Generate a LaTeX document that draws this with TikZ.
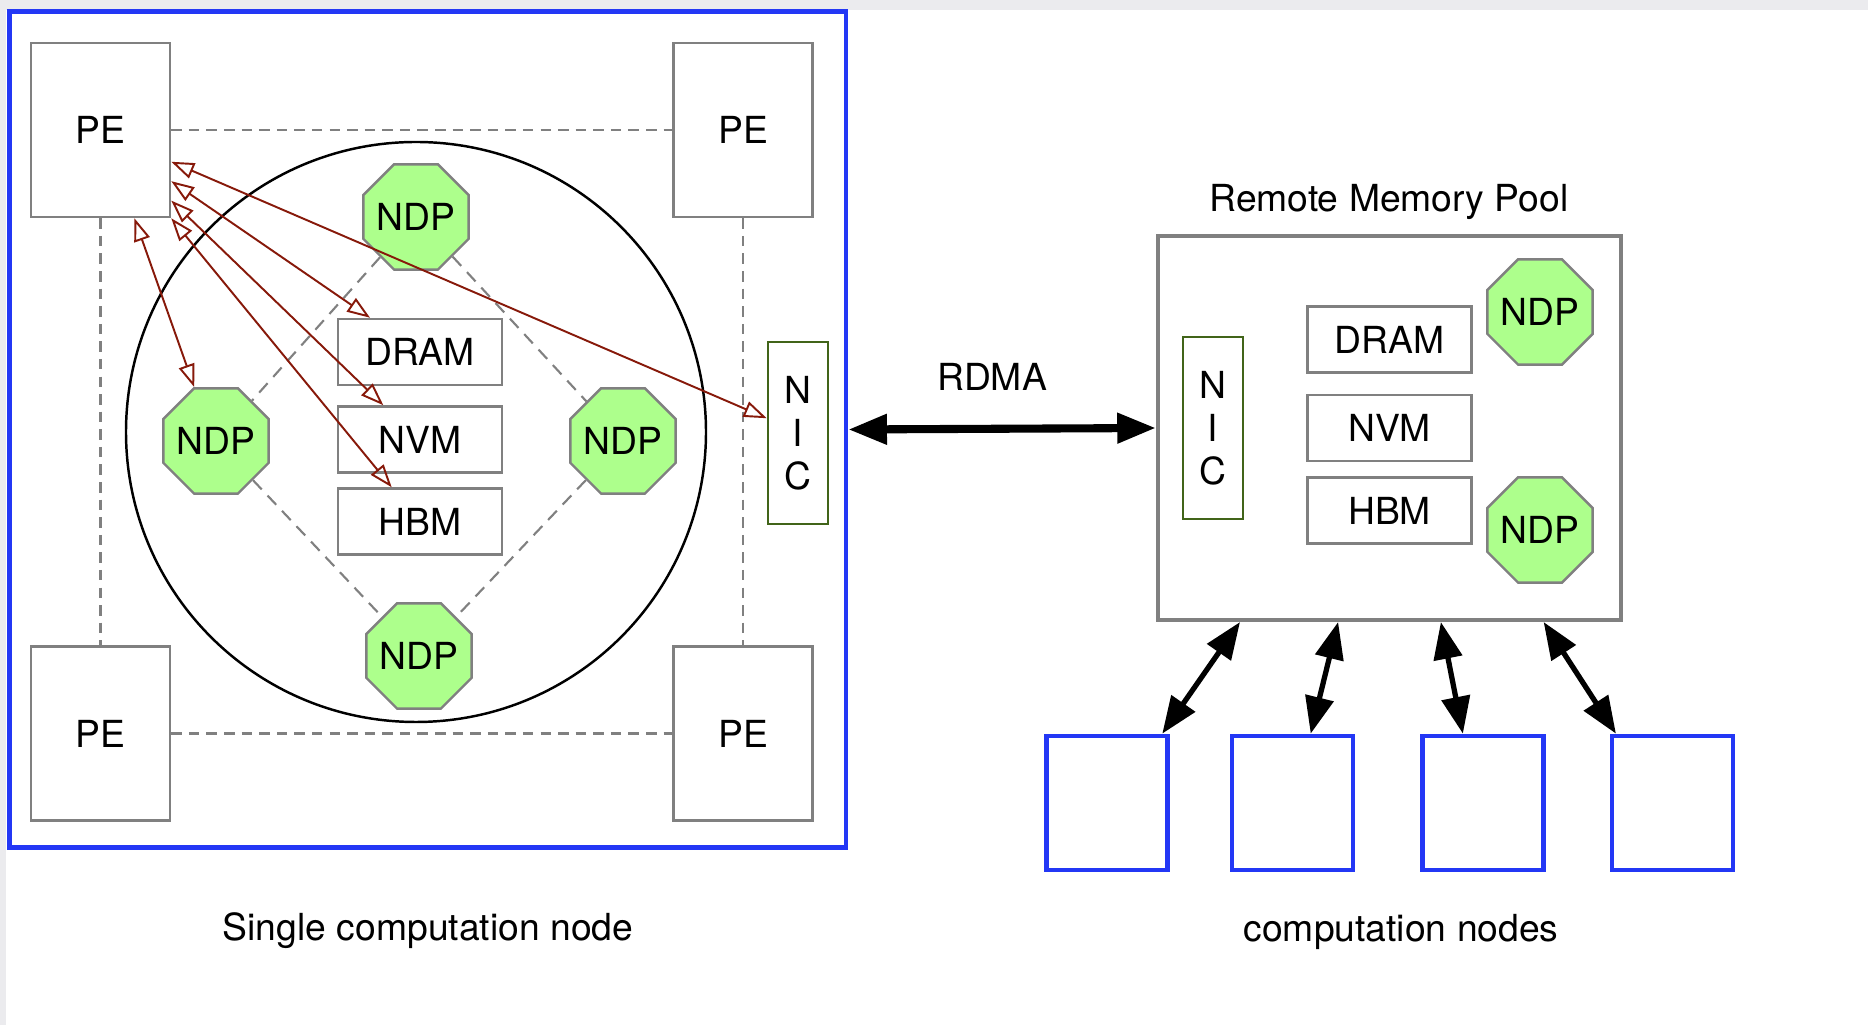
\documentclass[tikz,border=0pt]{standalone}
\usepackage{fontspec}
\setmainfont{TeX Gyre Heros}
\usetikzlibrary{shapes.geometric,arrows.meta,calc,positioning}
\definecolor{bggray}{RGB}{235,235,238}
\definecolor{boxgray}{RGB}{128,128,128}
\definecolor{ndpgreen}{RGB}{173,255,140}
\definecolor{nicgreen}{RGB}{65,100,25}
\definecolor{linkblue}{RGB}{35,55,245}
\definecolor{accred}{RGB}{135,25,10}
\newcommand{\diagfont}{\fontsize{10.6}{12.2}\selectfont}
\tikzset{
  pebox/.style={draw=boxgray, fill=white, line width=0.7pt, minimum width=1.39cm, minimum height=1.74cm},
  membox/.style={draw=boxgray, fill=white, line width=0.7pt, minimum width=1.64cm, minimum height=0.66cm},
  ndp/.style={regular polygon, regular polygon sides=8, draw=boxgray, fill=ndpgreen, line width=0.7pt, minimum size=1.14cm, inner sep=-1.6pt},
  nicbox/.style={draw=nicgreen, line width=0.7pt, minimum width=0.6cm, minimum height=1.82cm, align=center},
  cnode/.style={draw=linkblue, line width=1.3pt, minimum width=1.21cm, minimum height=1.34cm},
  pelink/.style={draw=boxgray, line width=0.7pt, dash pattern=on 3pt off 2pt},
  ndplink/.style={draw=boxgray, line width=0.6pt, dash pattern=on 3.6pt off 2.4pt},
  access/.style={draw=accred, line width=0.55pt, {Triangle[open,length=6.5pt,width=4.6pt]}-{Triangle[open,length=6.5pt,width=4.6pt]}},
  rdma/.style={line width=2.3pt, {Triangle[length=11pt,width=8.2pt]}-{Triangle[length=11pt,width=8.2pt]}},
  uplink/.style={line width=1.5pt, {Triangle[length=10.5pt,width=8pt]}-{Triangle[length=10.5pt,width=8pt]}}
}
\begin{document}
\begin{tikzpicture}[x=0.01cm,y=-0.01cm,font=\diagfont]
    \useasboundingbox (0,0) rectangle (1868,1025);
    \fill[bggray] (0,0) rectangle (1868,1025);
    \fill[white] (6,10) rectangle (1868,1025);

    % single computation node
    \node[draw=linkblue,line width=1.3pt,minimum width=8.36cm,minimum height=8.35cm] (local) at (427.75,429.5) {};
    \node[pebox] (pe1) at (100.5,130) {PE};
    \node[pebox] (pe2) at (743,130) {PE};
    \node[pebox] (pe3) at (100.5,733.5) {PE};
    \node[pebox] (pe4) at (743,733.5) {PE};
    \draw[pelink] (pe1.east) -- (pe2.west);
    \draw[pelink] (pe3.east) -- (pe4.west);
    \draw[pelink] (pe1.south) -- (pe3.north);
    \draw[pelink] (pe2.south) -- (pe4.north);

    \draw[line width=0.7pt] (416,432) circle[radius=290];
    \node[ndp] (ndpt) at (416,217) {NDP};
    \node[ndp] (ndpl) at (216,441) {NDP};
    \node[ndp] (ndpr) at (623,441) {NDP};
    \node[ndp] (ndpb) at (419,656) {NDP};
    \draw[ndplink] (ndpt) -- (ndpl);
    \draw[ndplink] (ndpt) -- (ndpr);
    \draw[ndplink] (ndpl) -- (ndpb);
    \draw[ndplink] (ndpr) -- (ndpb);

    \node[membox] (dram) at (420,352) {DRAM};
    \node[membox] (nvm) at (420,439.5) {NVM};
    \node[membox] (hbm) at (420,521.5) {HBM};
    \node[nicbox] (nic) at (798,433) {N\\I\\C};

    \draw[access] ($(pe1.south west)!0.74!(pe1.south east)$) -- (ndpl.112.5);
    \draw[access] ($(pe1.north east)!0.79!(pe1.south east)$) -- ($(dram.north west)!0.2!(dram.north east)$);
    \draw[access] ($(pe1.north east)!0.9!(pe1.south east)$) -- ($(nvm.north west)!0.28!(nvm.north east)$);
    \draw[access] (pe1.south east) -- ($(hbm.north west)!0.33!(hbm.north east)$);
    \draw[access] ($(pe1.north east)!0.68!(pe1.south east)$) -- ($(nic.north west)!0.42!(nic.south west)$);

    % remote memory pool
    \node[draw=boxgray,line width=1.1pt,minimum width=4.63cm,minimum height=3.84cm] (pool) at (1389.5,428) {};
    \node (pooltitle) at (1389,202) {Remote Memory Pool};
    \node[nicbox] (rnic) at (1213,428) {N\\I\\C};
    \node[membox] (rdram) at (1389.5,339.5) {DRAM};
    \node[membox] (rnvm) at (1389.5,428) {NVM};
    \node[membox] (rhbm) at (1389.5,510.5) {HBM};
    \node[ndp] (rndpt) at (1540,312) {NDP};
    \node[ndp] (rndpb) at (1540,530) {NDP};

    \draw[rdma] (local.east) -- (pool.west);
    \node (rdmalabel) at (992,377) {RDMA};

    % computation nodes
    \foreach \cx [count=\i] in {1107,1292.5,1483,1672.5}
        \node[cnode] (c\i) at (\cx,803) {};
    \foreach \i/\a/\b in {1/0.94/0.18, 2/0.645/0.39, 3/0.34/0.61, 4/0.05/0.83}
        \draw[uplink] ($(c\i.north west)!\a!(c\i.north east)$) -- ($(pool.south west)!\b!(pool.south east)$);

    \node (localcap) at (428,931) {Single computation node};
    \node (clustercap) at (1401,932) {computation nodes};
\end{tikzpicture}
\end{document}
